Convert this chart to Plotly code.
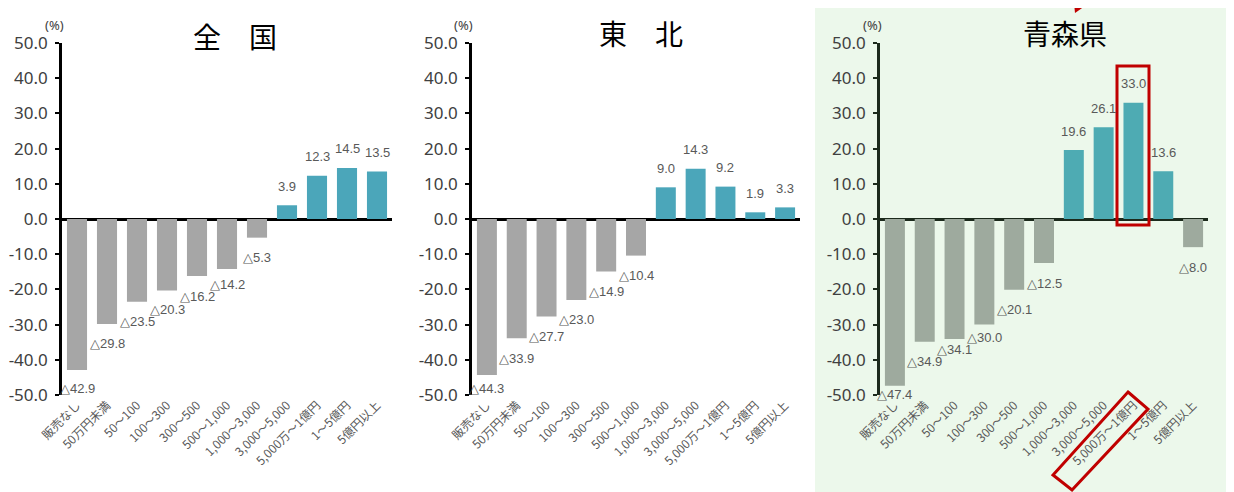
import plotly.graph_objects as go

W, H = 1234, 492
OFF = 8  # page body margin of the browser

categories = ["販売なし", "50万円未満", "50～100", "100～300", "300～500", "500～1,000",
              "1,000～3,000", "3,000～5,000", "5,000万～1億円", "1～5億円", "5億円以上"]
zenkoku = [-42.9, -29.8, -23.5, -20.3, -16.2, -14.2, -5.3, 3.9, 12.3, 14.5, 13.5]
tohoku = [-44.3, -33.9, -27.7, -23.0, -14.9, -10.4, 9.0, 14.3, 9.2, 1.9, 3.3]
aomori = [-47.4, -34.9, -34.1, -30.0, -20.1, -12.5, 19.6, 26.1, 33.0, 13.6, -8.0]
titles = ["全　国", "東　北", "青森県"]
y_ticks = [-50, -40, -30, -20, -10, 0, 10, 20, 30, 40, 50]
y_ticktext = [f"{v:.1f}" for v in y_ticks]


def px(x):
    return (x - OFF) / W


def py(y):
    return 1 - (y - OFF) / H


panels = [
    dict(vals=zenkoku, title=titles[0], x0=62, x1=392, tx=235, ty=36, pctx=66,
         pos="#4ba6ba", neg="#a6a6a6", axis="#000000"),
    dict(vals=tohoku, title=titles[1], x0=472, x1=800, tx=641, ty=33, pctx=475,
         pos="#4ba6ba", neg="#a6a6a6", axis="#000000"),
    dict(vals=aomori, title=titles[2], x0=880, x1=1208, tx=1065, ty=33, pctx=884,
         pos="#4eabb3", neg="#9eaa9e", axis="#1c2a1c"),
]

top_px, bot_px = 43, 395
zero_px = (top_px + bot_px) / 2
ppu = (bot_px - top_px) / 100.0

fig = go.Figure()
annotations = []
shapes = []

# green background for Aomori panel
shapes.append(dict(type="rect", xref="paper", yref="paper", layer="below",
                   x0=px(815), x1=px(1250), y0=py(510), y1=py(5),
                   fillcolor="#ecf8eb", line=dict(width=0)))

for i, p in enumerate(panels):
    n = "" if i == 0 else str(i + 1)
    colors = [p["pos"] if v >= 0 else p["neg"] for v in p["vals"]]
    fig.add_trace(go.Bar(x=categories, y=p["vals"], marker=dict(color=colors, line=dict(width=0)),
                         xaxis="x" + n, yaxis="y" + n, showlegend=False, hoverinfo="x+y"))
    fig.layout["xaxis" + n] = dict(
        domain=[px(p["x0"]), px(p["x1"])], anchor="y" + n, type="category",
        range=[-0.5, 10.5], tickangle=-45, showline=False, ticks="", showgrid=False,
        automargin=False,
        tickfont=dict(family="Noto Sans CJK JP", size=12, color="#595959"))
    fig.layout["yaxis" + n] = dict(
        domain=[py(bot_px), py(top_px)], anchor="x" + n, range=[-50, 50],
        tickmode="array", tickvals=y_ticks, ticktext=y_ticktext, showgrid=False,
        showline=True, linecolor=p["axis"], linewidth=2.5,
        ticks="outside", ticklen=4, tickwidth=2, tickcolor=p["axis"],
        zeroline=True, zerolinecolor=p["axis"], zerolinewidth=2.5,
        ticklabelstandoff=4, automargin=False,
        tickfont=dict(family="Noto Sans", size=17, color="#404040"))
    # titles
    annotations.append(dict(xref="paper", yref="paper", x=px(p["tx"]), y=py(p["ty"]),
                            text=p["title"], showarrow=False, xanchor="center", yanchor="middle",
                            font=dict(family="Noto Sans CJK JP", size=28, color="#000000")))
    annotations.append(dict(xref="paper", yref="paper", x=px(p["pctx"]), y=py(25),
                            text="(%)", showarrow=False, xanchor="right", yanchor="middle",
                            font=dict(family="Noto Sans", size=13, color="#404040")))
    # value labels (negative labels nudged up when they would collide with the left neighbour)
    prev_center = None
    for c, v in zip(categories, p["vals"]):
        if v >= 0:
            txt = f"{v:.1f}"
            shift = 19
            prev_center = None
        else:
            txt = "△" + f"{abs(v):.1f}"
            bar_px = zero_px + abs(v) * ppu
            center = min(bar_px + 20, max(bar_px + 9, 388))
            if prev_center is not None and prev_center - center < 12:
                center = max(prev_center - 12, bar_px + 7)
            shift = -(center - bar_px)
            prev_center = center
        annotations.append(dict(xref="x" + n, yref="y" + n, x=c, y=v, yshift=shift,
                                text=txt, showarrow=False, xanchor="center", yanchor="middle",
                                font=dict(family="Liberation Sans", size=13, color="#595959")))

# red highlight rectangle around the 5,000万～1億円 bar (Aomori)
shapes.append(dict(type="rect", xref="paper", yref="paper",
                   x0=px(1117), x1=px(1149), y0=py(225), y1=py(66),
                   line=dict(color="#c00000", width=3)))
# rotated red rectangle around the category label
corners = [(1128, 392), (1148, 409), (1072, 490), (1053, 475)]
path = "M " + " L ".join(f"{px(a):.5f},{py(b):.5f}" for a, b in corners) + " Z"
shapes.append(dict(type="path", xref="paper", yref="paper", path=path,
                   line=dict(color="#c00000", width=3)))
# red arrow tip at top
arrow = [(1073, -8), (1105, -8), (1075, 13)]
apath = "M " + " L ".join(f"{px(a):.5f},{py(b):.5f}" for a, b in arrow) + " Z"
shapes.append(dict(type="path", xref="paper", yref="paper", path=apath,
                   fillcolor="#c00000", line=dict(width=0)))

fig.update_layout(
    width=W, height=H, margin=dict(l=0, r=0, t=0, b=0, autoexpand=False),
    paper_bgcolor="#ffffff", plot_bgcolor="rgba(0,0,0,0)",
    bargap=0.33, annotations=annotations, shapes=shapes,
    font=dict(family="Noto Sans"),
)

fig.write_html("out.html")
